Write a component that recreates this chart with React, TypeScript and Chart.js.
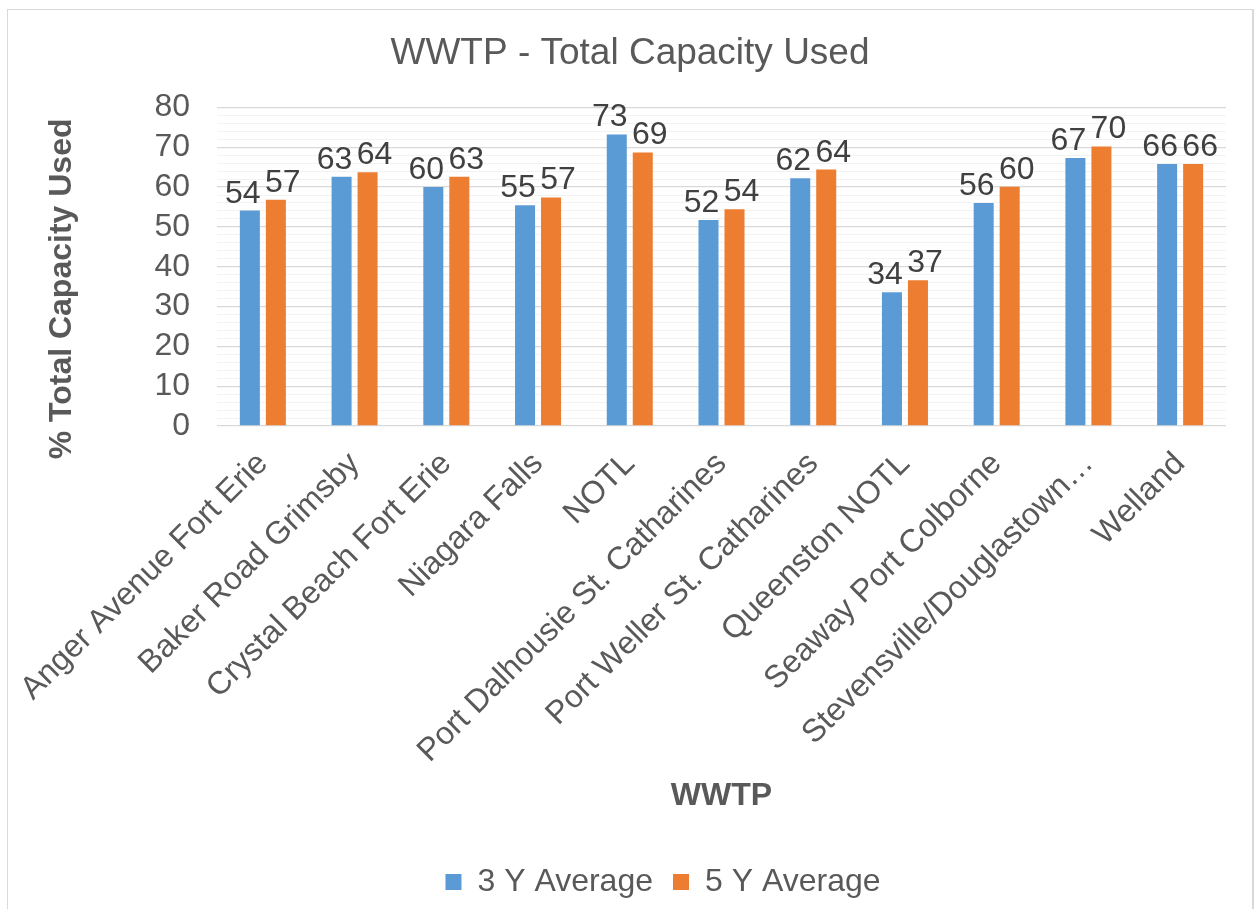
import React, { useEffect, useRef } from 'react';
import { Chart, registerables } from 'chart.js';

Chart.register(...registerables);

const categories = [
  'Anger Avenue Fort Erie',
  'Baker Road Grimsby',
  'Crystal Beach Fort Erie',
  'Niagara Falls',
  'NOTL',
  'Port Dalhousie St. Catharines',
  'Port Weller St. Catharines',
  'Queenston NOTL',
  'Seaway Port Colborne',
  'Stevensville/Douglastown…',
  'Welland',
];
const avg3Y = [54.1, 62.6, 60.0, 55.4, 73.2, 51.7, 62.2, 33.6, 56.0, 67.3, 65.8];
const avg5Y = [56.8, 63.7, 62.6, 57.4, 68.7, 54.4, 64.4, 36.6, 60.1, 70.2, 65.8];
const seriesNames = ['3 Y Average', '5 Y Average'];
const chartTitle = 'WWTP - Total Capacity Used';
const xTitle = 'WWTP';
const yTitle = '% Total Capacity Used';
const yMin = 0;
const yMax = 80;
const yMajorStep = 10;
const yMinorStep = 2;

const FONT = '"Liberation Sans", Arial, sans-serif';
const TEXT = '#595959';

const dataLabelPlugin = {
  id: 'barValueLabels',
  afterDatasetsDraw(chart: any) {
    const ctx = chart.ctx;
    ctx.save();
    ctx.font = `32px ${FONT}`;
    ctx.fillStyle = '#404040';
    ctx.textAlign = 'center';
    ctx.textBaseline = 'alphabetic';
    chart.data.datasets.forEach((ds: any, di: number) => {
      const meta = chart.getDatasetMeta(di);
      meta.data.forEach((bar: any, i: number) => {
        const v = ds.data[i];
        const dx = di === 0 ? -7 : 7;
        ctx.fillText(String(Math.round(v)), bar.x + dx, bar.y - 8);
      });
    });
    ctx.restore();
  },
};

const blockShiftPlugin = {
  id: 'blockShift',
  afterLayout(chart: any) {
    if (chart.legend) {
      chart.legend.left += 46;
      chart.legend.right += 46;
    }
    if (chart.titleBlock) {
      chart.titleBlock.left += 13;
      chart.titleBlock.right += 13;
    }
  },
};

export default function App() {
  const ref = useRef<HTMLCanvasElement>(null);

  useEffect(() => {
    if (!ref.current) return;
    const chart = new Chart(ref.current, {
      type: 'bar',
      data: {
        labels: categories,
        datasets: [
          {
            label: seriesNames[0],
            data: avg3Y,
            backgroundColor: '#5B9BD5',
            categoryPercentage: 0.567,
            barPercentage: 0.77,
          },
          {
            label: seriesNames[1],
            data: avg5Y,
            backgroundColor: '#ED7D31',
            categoryPercentage: 0.567,
            barPercentage: 0.77,
          },
        ],
      },
      options: {
        responsive: false,
        animation: false,
        devicePixelRatio: 1,
        layout: { padding: { left: 0, right: 26, top: 0, bottom: 1 } },
        plugins: {
          title: {
            display: true,
            text: chartTitle,
            color: TEXT,
            font: { family: FONT, size: 37, weight: 'normal' },
            padding: { top: 22, bottom: 31 },
          },
          legend: {
            display: true,
            position: 'bottom',
            labels: {
              color: TEXT,
              font: { family: FONT, size: 32 },
              boxWidth: 16,
              boxHeight: 16,
              padding: 20,
            },
          },
          tooltip: { enabled: false },
        },
        scales: {
          x: {
            grid: { display: false, drawTicks: false },
            border: { display: false },
            ticks: {
              color: TEXT,
              font: { family: FONT, size: 32 },
              maxRotation: 45,
              minRotation: 45,
              autoSkip: false,
              padding: 19,
            },
            title: {
              display: true,
              text: xTitle,
              color: TEXT,
              font: { family: FONT, size: 32, weight: 'bold' },
              padding: { top: 0, bottom: 31 },
            },
            afterFit: (scale: any) => {
              scale.height = 420;
              scale.paddingLeft = 0;
              scale.paddingRight = 0;
            },
          },
          y: {
            min: yMin,
            max: yMax,
            grid: {
              drawTicks: false,
              color: (c: any) => (c.tick && c.tick.value % yMajorStep === 0 ? '#d9d9d9' : '#f2f2f2'),
              lineWidth: (c: any) => (c.tick && c.tick.value % yMajorStep === 0 ? 1.3 : 1),
            },
            border: { display: false },
            ticks: {
              stepSize: yMinorStep,
              maxTicksLimit: 100,
              autoSkip: false,
              color: TEXT,
              font: { family: FONT, size: 32 },
              padding: 27,
              callback: (v: any) => (Number(v) % yMajorStep === 0 ? String(v) : ''),
            },
            title: {
              display: true,
              text: yTitle + '     ',
              color: TEXT,
              font: { family: FONT, size: 32, weight: 'bold' },
              padding: { top: 35, bottom: 0 },
            },
            afterFit: (scale: any) => {
              scale.width = 209;
            },
          },
        },
      },
      plugins: [dataLabelPlugin, blockShiftPlugin],
    } as any);
    return () => chart.destroy();
  }, []);

  return (
    <div
      style={{
        position: 'absolute',
        left: 7,
        top: 9,
        width: 1247,
        height: 900,
        borderLeft: '1px solid #d9d9d9',
        borderTop: '1px solid #d9d9d9',
        borderRight: '2px solid #d9d9d9',
        boxSizing: 'border-box',
        background: '#fff',
        overflow: 'hidden',
      }}
    >
      <canvas ref={ref} width={1244} height={899} style={{ display: 'block', width: 1244, height: 899 }} />
    </div>
  );
}
